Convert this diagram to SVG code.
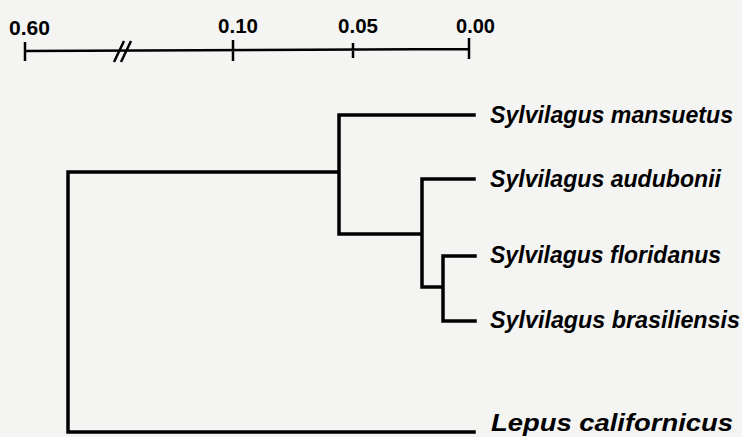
<svg xmlns="http://www.w3.org/2000/svg" width="742" height="437" viewBox="0 0 742 437">
<style>
.bg{fill:#f4f4f3}
.br{fill:none;stroke:#000;stroke-width:3.5;stroke-linecap:square;stroke-linejoin:miter}
.sc{fill:none;stroke:#000;stroke-width:2.5}
.tx{font-family:"Liberation Sans",Arial,sans-serif;font-weight:bold;fill:#000}
.sp{font-size:23px;font-style:italic}
.lp{font-size:23px;font-style:italic}
.nm{font-size:20px}
</style>
<rect class="bg" x="0" y="0" width="742" height="437"/>
<g id="scale">
<path class="sc" d="M25,51 L469,49 M25,42 V61 M233,40 V61 M353,43 V58 M469,38 V59"/>
<path class="sc" d="M114,62 L124,41 M121,62 L131,41"/>
<text class="tx nm" x="9" y="35" textLength="41" lengthAdjust="spacingAndGlyphs">0.60</text>
<text class="tx nm" x="218" y="33" textLength="40" lengthAdjust="spacingAndGlyphs">0.10</text>
<text class="tx nm" x="338" y="33" textLength="40" lengthAdjust="spacingAndGlyphs">0.05</text>
<text class="tx nm" x="456" y="33" textLength="39" lengthAdjust="spacingAndGlyphs">0.00</text>
</g>
<g id="connectors">
<path class="br" d="M68,172 V432 M68,172 H339 M339,115 V234 M339,115 H474 M339,234 H422 M422,179 V287 M422,179 H474 M422,287 H443 M443,256 V321 M443,256 H475 M443,321 H475 M68,432 H474"/>
</g>
<g id="mansuetus"><text class="tx sp" x="490" y="123" textLength="243" lengthAdjust="spacingAndGlyphs">Sylvilagus mansuetus</text></g>
<g id="audubonii"><text class="tx sp" x="490" y="187" textLength="231" lengthAdjust="spacingAndGlyphs">Sylvilagus audubonii</text></g>
<g id="floridanus"><text class="tx sp" x="490" y="263" textLength="231" lengthAdjust="spacingAndGlyphs">Sylvilagus floridanus</text></g>
<g id="brasiliensis"><text class="tx sp" x="490" y="328" textLength="250" lengthAdjust="spacingAndGlyphs">Sylvilagus brasiliensis</text></g>
<g id="lepus"><text class="tx lp" x="491" y="431" textLength="242" lengthAdjust="spacingAndGlyphs">Lepus californicus</text></g>
</svg>
